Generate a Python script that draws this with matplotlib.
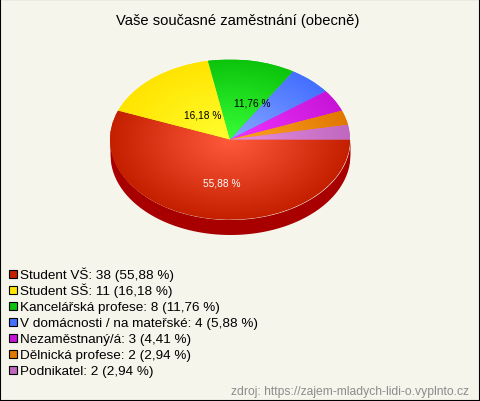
from matplotlib import pyplot as plt
from matplotlib.colors import LinearSegmentedColormap
from matplotlib.patches import Rectangle
import numpy as np

W, H = 480, 402
CX, CY, RX, RY, DEPTH = 230, 140.5, 120, 80, 15
BG = '#f5f5ec'

names = ['Student VŠ', 'Student SŠ', 'Kancelářská profese',
         'V domácnosti / na mateřské', 'Nezaměstnaný/á', 'Dělnická profese',
         'Podnikatel']
counts = [38, 11, 8, 4, 3, 2, 2]
percents = ['55,88', '16,18', '11,76', '5,88', '4,41', '2,94', '2,94']
edge_colors = ['#c42000', '#ffe400', '#0cc40c', '#4470ff', '#c814d8',
               '#e27800', '#c068c0']
centre_colors = ['#ff5a3c', '#ffff30', '#38ff38', '#88a8ff', '#f034ff',
                 '#ffa428', '#e890e0']

plt.rcParams['font.family'] = ['Liberation Sans', 'DejaVu Sans']


def to_x(px):
    return (px - CX) / RX


def to_y(py):
    return (CY - py) / RY


fig = plt.figure(figsize=(W / 100, H / 100), dpi=100, facecolor=BG)
ax = fig.add_axes([0, 0, 1, 1])
ax.patch.set_visible(False)

# side wall of the pie, only the front half shows
xs = np.linspace(-1, 1, 400)
rim = -np.sqrt(1 - xs ** 2)
ax.fill_between(xs, rim - DEPTH / RY, rim, color='#a80000', lw=0, zorder=1)

wedges, _ = ax.pie(counts, colors=edge_colors, startangle=0, counterclock=False,
                   center=(0, 0), radius=1, frame=True,
                   wedgeprops={'linewidth': 0, 'zorder': 2})

# each slice gets a radial gradient clipped to its wedge
grid = np.linspace(-1, 1, 480)
radius = np.clip(np.hypot(*np.meshgrid(grid, grid)), 0, 1)
for wedge, c0, c1 in zip(wedges, centre_colors, edge_colors):
    cmap = LinearSegmentedColormap.from_list('slice', [c0, c1])
    im = ax.imshow(radius, cmap=cmap, vmin=0, vmax=1, extent=(-1, 1, -1, 1),
                   aspect='auto', zorder=3, interpolation='bilinear')
    im.set_clip_path(wedge)

ax.set_aspect('auto')
ax.set_xlim(to_x(0), to_x(W))
ax.set_ylim(to_y(H), to_y(0))
ax.set_xticks([])
ax.set_yticks([])
for side in ax.spines.values():
    side.set_visible(False)

ax.text(to_x(222), to_y(186), percents[0] + ' %', color='white', fontsize=7.3,
        ha='center', va='baseline', zorder=5)
ax.text(to_x(203), to_y(119), percents[1] + ' %', color='black', fontsize=7.3,
        ha='center', va='baseline', zorder=5)
ax.text(to_x(252), to_y(106), percents[2] + ' %', color='black', fontsize=7.3,
        ha='center', va='baseline', zorder=5)

ax.text(to_x(238), to_y(25), 'Vaše současné zaměstnání (obecně)', fontsize=10.6,
        ha='center', va='baseline', color='black')

for i, name in enumerate(names):
    base = 279.5 + 15.95 * i
    ax.add_patch(Rectangle((to_x(9), to_y(base - 0.5)), 8 / RX, 8 / RY,
                           facecolor=edge_colors[i], edgecolor='black', lw=0.8,
                           zorder=4))
    ax.text(to_x(20), to_y(base), '{}: {} ({} %)'.format(name, counts[i], percents[i]),
            fontsize=9.7, ha='left', va='baseline', color='black')

ax.text(to_x(469), to_y(395), 'zdroj: https://zajem-mladych-lidi-o.vyplnto.cz',
        fontsize=8.72, ha='right', va='baseline', color='#8c8c8c')

fig.add_artist(Rectangle((0, 0), 1, 1, transform=fig.transFigure, fill=False,
                         edgecolor='black', lw=1.5))
fig.savefig('out.png', dpi=100, facecolor=BG)
